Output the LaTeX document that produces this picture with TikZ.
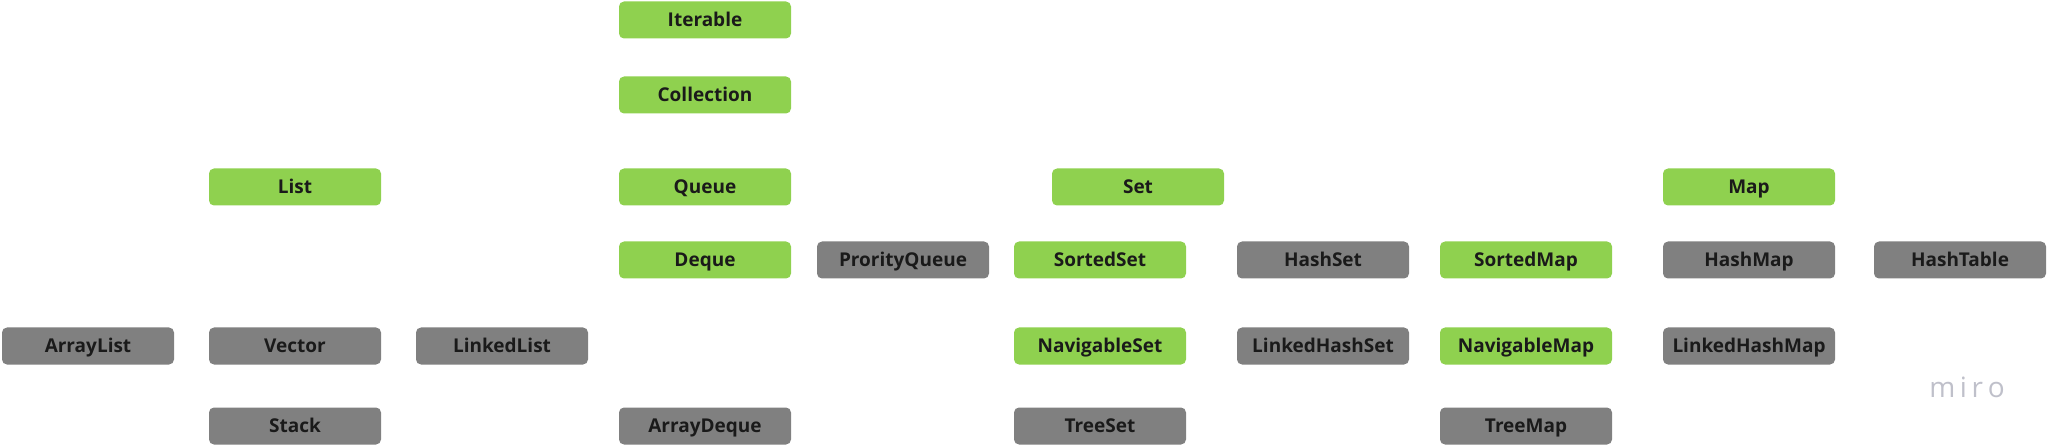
\documentclass[tikz,border=0pt]{standalone}
\usepackage{fontspec}
\setmainfont{Open Sans}
\definecolor{ifacegreen}{HTML}{8FD14F}
\definecolor{implgrey}{HTML}{808080}
\definecolor{labeldark}{HTML}{1A1A1A}
\definecolor{mirogrey}{HTML}{BFC0CA}
\begin{document}
\begin{tikzpicture}[
    x=1pt, y=-1pt,
    box/.style={rounded corners=5pt, minimum width=172pt, minimum height=37pt, inner sep=0pt,
                text height=13.5pt, text depth=0pt,
                font=\fontsize{19}{22}\selectfont\bfseries, text=labeldark},
    iface/.style={box, fill=ifacegreen},
    impl/.style={box, fill=implgrey}
]
    \useasboundingbox (0,0) rectangle (2048,446);
    % interfaces
    \node[iface] (iterable)   at (705, 20)  {Iterable};
    \node[iface] (collection) at (705, 95)  {Collection};
    \node[iface] (list)       at (295, 187) {List};
    \node[iface] (queue)      at (705, 187) {Queue};
    \node[iface] (set)        at (1138, 187) {Set};
    \node[iface] (map)        at (1749, 187) {Map};
    \node[iface] (deque)      at (705, 260) {Deque};
    \node[iface] (sortedset)  at (1100, 260) {SortedSet};
    \node[iface] (sortedmap)  at (1526, 260) {SortedMap};
    \node[iface] (navset)     at (1100, 346) {NavigableSet};
    \node[iface] (navmap)     at (1526, 346) {NavigableMap};
    % implementations
    \node[impl] (prioqueue)   at (903, 260)  {ProrityQueue};
    \node[impl] (hashset)     at (1323, 260) {HashSet};
    \node[impl] (hashmap)     at (1749, 260) {HashMap};
    \node[impl] (hashtable)   at (1960, 260) {HashTable};
    \node[impl] (arraylist)   at (88, 346)   {ArrayList};
    \node[impl] (vector)      at (295, 346)  {Vector};
    \node[impl] (linkedlist)  at (502, 346)  {LinkedList};
    \node[impl] (lhashset)    at (1323, 346) {LinkedHashSet};
    \node[impl] (lhashmap)    at (1749, 346) {LinkedHashMap};
    \node[impl] (stack)       at (295, 426)  {Stack};
    \node[impl] (arraydeque)  at (705, 426)  {ArrayDeque};
    \node[impl] (treeset)     at (1100, 426) {TreeSet};
    \node[impl] (treemap)     at (1526, 426) {TreeMap};
    % watermark
    \node[font=\fontsize{28}{30}\selectfont, text=mirogrey] (miro) at (1967, 387) {m\,i\,r\,o};
\end{tikzpicture}
\end{document}
